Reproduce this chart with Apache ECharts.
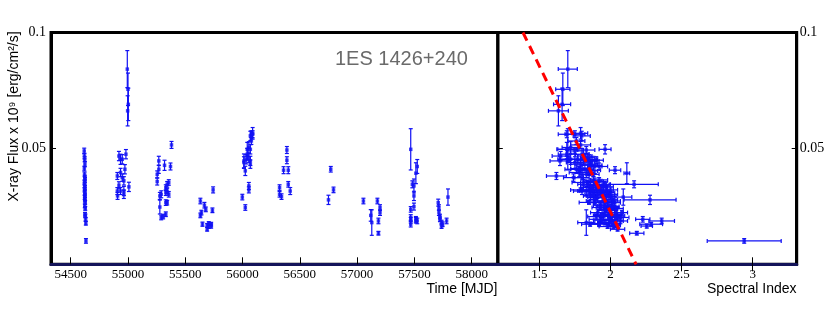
<!DOCTYPE html>
<html><head><meta charset="utf-8">
<script src="https://cdn.jsdelivr.net/npm/echarts@6.0.0/dist/echarts.min.js"></script>
<style>html,body{margin:0;padding:0;background:#fff}#c{width:830px;height:312px}</style>
</head><body><div id="c"></div>
<script>
// ---- data ----
const mjd = [
54618,54620,54622,54624,54619,54621,54623,54625,54620,54622,54624,54621,54623,54625,54622,54624,54626,54623,54627,54625,54628,54630,54632,54633,
54994,55000,55003,54997,54907,54907,54909,54921,54921,54935,54935,54935,54950,54950,54964,54964,54964,54973,54982,55008,
55255,55255,55269,55269,55278,55278,55290,55290,55307,55319,55330,55330,55330,55330,55342,55342,55342,55356,55356,55371,55380,
55632,55632,55641,55650,55667,55679,55691,55691,55705,55705,55726,55726,55737,55743,
55998,56012,56012,56024,56024,56032,56041,56041,56055,56055,56055,56055,56068,56068,56068,56068,56077,56077,56088,56088,
56323,56323,56340,56358,56387,56387,56399,56399,56416,
56750,56770,56794,57055,57119,57128,57177,57186,57186,57200,57200,
57468,57468,57468,57468,57468,57482,57496,57496,57496,57513,57513,57513,57525,57525,
57708,57714,57714,57723,57723,57737,57737,57746,57781,57793];
const flux = [
0.0489,0.0467,0.0453,0.0432,0.0413,0.0388,0.0374,0.0364,0.0353,0.0341,0.0331,0.0321,0.0309,0.0298,0.0288,0.0278,0.0267,0.0252,0.0241,0.0216,0.0209,0.0194,0.0177,0.0101,
0.0842,0.0755,0.0690,0.0662,0.0381,0.0316,0.0295,0.0467,0.0341,0.0453,0.0396,0.0316,0.0453,0.0374,0.0316,0.0302,0.0360,0.0410,0.0475,0.0334,
0.0388,0.0357,0.0446,0.0410,0.0247,0.0295,0.0302,0.0202,0.0206,0.0427,0.0331,0.0309,0.0266,0.0216,0.0316,0.0266,0.0345,0.0353,0.0302,0.0422,0.0515,
0.0273,0.0211,0.0223,0.0173,0.0255,0.0237,0.0168,0.0151,0.0163,0.0176,0.0173,0.0165,0.0233,0.0321,
0.0290,0.0446,0.0439,0.0245,0.0403,0.0453,0.0496,0.0475,0.0504,0.0460,0.0338,0.0321,0.0554,0.0496,0.0446,0.0432,0.0561,0.0532,0.0565,0.0561,
0.0331,0.0302,0.0292,0.0406,0.0493,0.0449,0.0406,0.0345,0.0316,
0.0278,0.0410,0.0321,0.0273,0.0211,0.0180,0.0273,0.0187,0.0134,0.0245,0.0223,
0.0496,0.0237,0.0202,0.0190,0.0173,0.0345,0.0295,0.0249,0.0338,0.0393,0.0194,0.0190,0.0422,0.0187,
0.0266,0.0245,0.0223,0.0206,0.0194,0.0180,0.0165,0.0173,0.0187,0.0290];
const fluxErr = [
0.0012,0.0012,0.0011,0.0011,0.0010,0.0010,0.0010,0.0010,0.0010,0.0010,0.0009,0.0009,0.0009,0.0009,0.0009,0.0009,0.0008,0.0008,0.0008,0.0008,0.0008,0.0008,0.0008,0.0010,
0.0080,0.0070,0.0070,0.0065,0.0015,0.0015,0.0015,0.0020,0.0015,0.0022,0.0018,0.0015,0.0020,0.0016,0.0020,0.0018,0.0018,0.0020,0.0020,0.0020,
0.0015,0.0015,0.0020,0.0018,0.0030,0.0015,0.0015,0.0010,0.0010,0.0022,0.0012,0.0012,0.0012,0.0010,0.0012,0.0010,0.0012,0.0012,0.0012,0.0015,0.0015,
0.0012,0.0010,0.0010,0.0009,0.0012,0.0010,0.0008,0.0008,0.0008,0.0008,0.0008,0.0009,0.0010,0.0013,
0.0012,0.0030,0.0025,0.0012,0.0020,0.0020,0.0030,0.0025,0.0025,0.0020,0.0015,0.0013,0.0020,0.0020,0.0020,0.0018,0.0015,0.0015,0.0025,0.0015,
0.0012,0.0012,0.0012,0.0015,0.0015,0.0015,0.0015,0.0012,0.0015,
0.0020,0.0012,0.0012,0.0012,0.0025,0.0055,0.0012,0.0012,0.0008,0.0012,0.0012,
0.0089,0.0012,0.0012,0.0012,0.0012,0.0015,0.0020,0.0015,0.0030,0.0045,0.0012,0.0012,0.0030,0.0012,
0.0015,0.0012,0.0012,0.0010,0.0010,0.0010,0.0010,0.0010,0.0012,0.0035];
const specIndex = [
1.75,1.82,1.70,1.86,1.78,1.88,1.80,1.92,1.84,1.95,1.87,1.79,1.93,1.98,1.90,2.01,1.85,1.96,2.04,1.99,2.06,1.93,2.02,2.94,
1.70,1.665,1.66,1.634,1.62,1.80,1.86,1.65,1.90,1.72,1.78,1.95,1.85,1.74,1.83,1.91,1.88,1.80,1.693,1.97,
1.83,1.89,1.645,1.76,1.96,1.88,1.94,2.05,1.99,1.87,1.92,1.98,2.03,1.95,1.85,1.89,1.96,1.81,2.00,1.92,1.79,
2.02,1.94,2.08,1.857,1.93,2.00,2.03,2.05,1.98,1.92,2.286,2.255,1.97,1.90,
1.95,1.82,1.75,2.01,1.85,1.77,1.693,1.80,1.72,1.84,1.91,1.87,1.798,1.962,1.87,1.79,1.693,1.76,1.79,1.75,
1.93,1.88,1.99,1.86,1.83,1.90,2.032,1.84,1.97,
2.278,1.78,2.00,1.96,2.03,1.83,1.89,2.04,2.185,1.99,1.91,
1.70,1.97,2.07,1.99,2.03,2.166,1.95,2.01,1.86,2.115,2.227,1.94,1.89,2.36,
1.98,1.93,2.04,1.90,2.00,1.96,2.02,1.92,2.07,2.09];
const specIndexErr = [
0.06,0.05,0.07,0.05,0.06,0.04,0.05,0.06,0.05,0.04,0.06,0.07,0.05,0.05,0.06,0.04,0.07,0.05,0.05,0.06,0.04,0.08,0.05,0.26,
0.067,0.05,0.06,0.07,0.07,0.06,0.05,0.06,0.05,0.08,0.07,0.05,0.06,0.07,0.06,0.05,0.06,0.08,0.06,0.05,
0.05,0.06,0.07,0.08,0.06,0.05,0.05,0.04,0.06,0.07,0.05,0.05,0.04,0.06,0.07,0.05,0.04,0.08,0.05,0.06,0.07,
0.05,0.06,0.04,0.06,0.05,0.05,0.04,0.05,0.06,0.07,0.08,0.04,0.06,0.05,
0.05,0.07,0.06,0.05,0.06,0.07,0.07,0.05,0.06,0.05,0.06,0.07,0.06,0.042,0.05,0.07,0.06,0.06,0.05,0.07,
0.05,0.06,0.05,0.07,0.06,0.05,0.04,0.07,0.05,
0.183,0.06,0.05,0.05,0.05,0.06,0.06,0.05,0.05,0.06,0.05,
0.07,0.05,0.06,0.05,0.04,0.17,0.06,0.05,0.07,0.02,0.05,0.06,0.05,0.09,
0.05,0.06,0.05,0.06,0.05,0.05,0.04,0.06,0.05,0.06];
const timeTicks = [54500,55000,55500,56000,56500,57000,57500,58000];
const indexTicks = [1.5,2,2.5,3];
const fluxTicks = [0.05,0.1];
const fitLine = [[1.385,0.1],[2.18,0.0]];
const sourceName = '1ES 1426+240';

// ---- chart ----
const BLUE = '#1010f4';
const SERIF = '"Liberation Serif","Times New Roman",serif';
const SANS = '"Liberation Sans",Arial,sans-serif';
const leftData = mjd.map((m,i)=>[m, flux[i], fluxErr[i]]);
const rightData = specIndex.map((s,i)=>[s, flux[i], fluxErr[i], specIndexErr[i]]);
const plain = v => String(v);

function seg(x1,y1,x2,y2){return {type:'line',shape:{x1,y1,x2,y2},style:{stroke:BLUE,lineWidth:1.2}};}
function renderLeft(params, api){
  const x=api.value(0), y=api.value(1), e=api.value(2);
  const t=api.coord([x,y+e]), b=api.coord([x,y-e]); const c=2;
  return {type:'group',children:[seg(t[0],t[1],b[0],b[1]),seg(t[0]-c,t[1],t[0]+c,t[1]),seg(b[0]-c,b[1],b[0]+c,b[1])]};
}
function renderRight(params, api){
  const x=api.value(0), y=api.value(1), e=api.value(2), xe=api.value(3);
  const t=api.coord([x,y+e]), b=api.coord([x,y-e]);
  const l=api.coord([x-xe,y]), r=api.coord([x+xe,y]); const c=2;
  return {type:'group',children:[
    seg(t[0],t[1],b[0],b[1]),seg(t[0]-c,t[1],t[0]+c,t[1]),seg(b[0]-c,b[1],b[0]+c,b[1]),
    seg(l[0],l[1],r[0],r[1]),seg(l[0],l[1]-c,l[0],l[1]+c),seg(r[0],r[1]-c,r[0],r[1]+c)]};
}
const tickStyle = {color:'#000',width:1};
const chart = echarts.init(document.getElementById('c'));
chart.setOption({
  animation:false,
  backgroundColor:'#fff',
  grid:[
    {left:51,top:32.5,width:446.8,height:231.8,show:true,borderColor:'#000',borderWidth:3,backgroundColor:'transparent'},
    {left:497.8,top:32.5,width:298.9,height:231.8,show:true,borderColor:'#000',borderWidth:3,backgroundColor:'transparent'}
  ],
  xAxis:[
    {gridIndex:0,type:'value',min:54328,max:58228,
     axisLine:{show:true,onZero:false,lineStyle:{color:'#14145a',width:3}},
     axisTick:{show:true,inside:true,length:7,customValues:timeTicks,lineStyle:tickStyle},
     axisLabel:{customValues:timeTicks,formatter:plain,fontFamily:SERIF,fontSize:13,color:'#000',margin:4},
     splitLine:{show:false}},
    {gridIndex:1,type:'value',min:1.208,max:3.309,
     axisLine:{show:true,onZero:false,lineStyle:{color:'#14145a',width:3}},
     axisTick:{show:true,inside:true,length:7,customValues:indexTicks,lineStyle:tickStyle},
     axisLabel:{customValues:indexTicks,formatter:plain,fontFamily:SERIF,fontSize:13,color:'#000',margin:4},
     splitLine:{show:false}},
    {gridIndex:1,type:'value',position:'top',min:1.208,max:3.309,
     axisLine:{show:false},
     axisTick:{show:true,inside:true,length:7,customValues:indexTicks,lineStyle:tickStyle},
     axisLabel:{show:false},splitLine:{show:false}}
  ],
  yAxis:[
    {gridIndex:0,type:'value',min:0,max:0.1,position:'left',
     axisLine:{show:true,onZero:false,lineStyle:{color:'#000',width:3}},
     axisTick:{show:true,inside:true,length:5,customValues:fluxTicks,lineStyle:tickStyle},
     axisLabel:{customValues:fluxTicks,formatter:plain,fontFamily:SERIF,fontSize:14,color:'#000',margin:5},
     splitLine:{show:false}},
    {gridIndex:1,type:'value',min:0,max:0.1,position:'right',
     axisLine:{show:true,onZero:false,lineStyle:{color:'#000',width:3}},
     axisTick:{show:true,inside:true,length:5,customValues:fluxTicks,lineStyle:tickStyle},
     axisLabel:{customValues:fluxTicks,formatter:plain,fontFamily:SERIF,fontSize:14,color:'#000',margin:3},
     splitLine:{show:false}},
    {gridIndex:1,type:'value',min:0,max:0.1,position:'left',
     axisLine:{show:false},
     axisTick:{show:true,inside:true,length:5,customValues:fluxTicks,lineStyle:tickStyle},
     axisLabel:{show:false},splitLine:{show:false}}
  ],
  series:[
    {type:'custom',xAxisIndex:0,yAxisIndex:0,data:leftData,renderItem:renderLeft,encode:{x:0,y:1},z:3},
    {type:'scatter',xAxisIndex:0,yAxisIndex:0,data:leftData,symbol:'rect',symbolSize:3.5,itemStyle:{color:BLUE},z:4},
    {type:'custom',xAxisIndex:1,yAxisIndex:1,data:rightData,renderItem:renderRight,encode:{x:0,y:1},z:3},
    {type:'scatter',xAxisIndex:1,yAxisIndex:1,data:rightData,symbol:'rect',symbolSize:3.5,itemStyle:{color:BLUE},z:4},
    {type:'line',xAxisIndex:1,yAxisIndex:1,data:fitLine,showSymbol:false,symbol:'none',
     lineStyle:{color:'#ff0000',width:3,type:[9,6]},z:5}
  ],
  graphic:[
    {type:'text',x:335,y:59.5,style:{text:sourceName,fontSize:20,fontFamily:SANS,fill:'#6a6a6a',align:'left',verticalAlign:'middle',textAlign:'left',textVerticalAlign:'middle'}},
    {type:'text',x:497.5,y:289,style:{text:'Time [MJD]',fontSize:14,fontFamily:SANS,fill:'#000',align:'right',verticalAlign:'middle',textAlign:'right',textVerticalAlign:'middle'}},
    {type:'text',x:796.5,y:289,style:{text:'Spectral Index',fontSize:14,fontFamily:SANS,fill:'#000',align:'right',verticalAlign:'middle',textAlign:'right',textVerticalAlign:'middle'}},
    {type:'text',x:14.5,y:116.5,rotation:Math.PI/2,style:{text:'X-ray Flux x 10⁹ [erg/cm²/s]',fontSize:14,fontFamily:SANS,fill:'#000',align:'center',verticalAlign:'middle',textAlign:'center',textVerticalAlign:'middle'}}
  ]
});
</script></body></html>
